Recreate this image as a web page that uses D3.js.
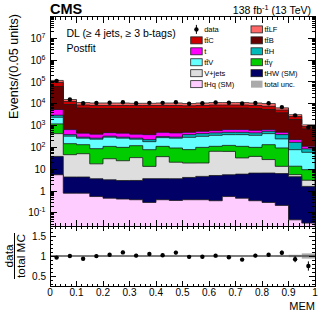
<!DOCTYPE html>
<html><head><meta charset="utf-8">
<script src="https://cdn.jsdelivr.net/npm/d3@7"></script>
<style>
body{margin:0;background:#fff}
svg{display:block}
text{font-family:"Liberation Sans",Arial,Helvetica,sans-serif;fill:#000}
</style>
</head><body>
<svg id="c" width="332" height="325"></svg>
<script>
// ---------------- data ----------------
const binLow = [0.00,0.05,0.10,0.15,0.20,0.25,0.30,0.35,0.40,0.45,0.50,0.55,0.60,0.65,0.70,0.75,0.80,0.85,0.90,0.95];
const binWidth = 0.05;

const tHq     = [5.6,0.8,0.8,0.56,0.47,0.43,0.40,0.30,0.40,0.37,0.40,0.40,0.36,0.56,0.47,0.36,0.30,0.22,0.048,0.034];
const tHW     = [33,3.6,3.6,3.1,2.8,2.6,2.65,3.4,3.3,3.3,3.8,4.3,4.8,5.0,5.5,6.3,6.4,6.1,4.5,1.6];
const Vjets   = [390,42,47,14,27,21.5,31,9.8,34,17.3,15,14.6,61,60,27,32,21,7.2,1.1,1.5];
const ttgamma = [770,102,82,70,81,76,86,65,74,73,60,81,46,58,79,62,106,81,8.1,6.4];
const ttV     = [1210,180,132,151,184,165,119,105,169,172,211,222,246,261,273,258,295,151,65,50];
const ttH     = [570,56,30,27,33,30,27,43,31,30,95,106,104,107,107,104,119,140,92,26];
const tSingle = [2470,270,156,140,147,156,140,158,180,166,107,119,127,163,163,146,108,107,56,27];
const ttB     = [56650,8585,5930,5645,5575,5600,5645,5665,5560,5590,5560,5500,5790,5725,5725,5440,4790,3345,1660,593];
const ttC     = [32700,3450,2390,2260,2260,2260,2260,2260,2260,2260,2000,2260,2390,2390,2390,2260,2195,1323,706,194];
const ttLF    = [22400,2990,2630,2510,2510,2510,2180,2180,2510,2510,2210,2510,2630,2630,2630,2510,2620,1350,612,213];

const data    = [112500,15700,10600,10800,11150,11800,10600,11000,11040,11740,10050,10600,11500,11060,10370,10930,10570,7030,2950,834];
const dataErr = [1500,560,460,465,470,485,460,470,470,485,450,460,480,470,455,470,460,375,243,129];
const uncRel  = [0.012,0.012,0.012,0.012,0.012,0.012,0.012,0.012,0.012,0.012,0.012,0.012,0.012,0.012,0.012,0.012,0.012,0.015,0.03,0.065];

const yTickLabels = [["10","-1"],["1",""],["10",""],["10","2"],["10","3"],["10","4"],["10","5"],["10","6"],["10","7"]];
const yTickValues = [0.1,1,10,100,1e3,1e4,1e5,1e6,1e7];
const xTickValues = [0,0.1,0.2,0.3,0.4,0.5,0.6,0.7,0.8,0.9,1];
const xTickLabels = ["0","0.1","0.2","0.3","0.4","0.5","0.6","0.7","0.8","0.9","1"];
const rTickValues = [0.5,1,1.5];
const rTickLabels = ["0.5","1","1.5"];

// stack order (bottom -> top), colours, legend
const keys   = ["tHq","tHW","Vjets","ttgamma","ttV","ttH","t","ttB","ttC","ttLF"];
const colors = {ttLF:"#ff6666",ttC:"#cc0000",ttB:"#660000",t:"#ff00ff",ttH:"#00baba",ttV:"#66ffff",ttgamma:"#00cc00",Vjets:"#dedede",tHW:"#000066",tHq:"#ffccff",unc:"#aaaaaa"};
const legendItems = [
  ["data","data"],["ttLF","tt\u0304LF"],
  ["ttC","tt\u0304C"],["ttB","tt\u0304B"],
  ["t","t"],["ttH","tt\u0304H"],
  ["ttV","tt\u0304V"],["ttgamma","tt\u0304\u03b3"],
  ["Vjets","V+jets"],["tHW","tHW (SM)"],
  ["tHq","tHq (SM)"],["unc","total unc."]
];

// ---------------- layout ----------------
const FONT = '"Liberation Sans",Arial,Helvetica,sans-serif';
const L = 50, R = 315, T = 16.5, MB = 226, RT = 226, RB = 286;
const svg = d3.select("#c");
const x = d3.scaleLinear().domain([0,1]).range([L,R]);
const yMin = 0.025, yMax = 1e8;
const y = d3.scaleLog().domain([yMin,yMax]).range([MB,T]);
const yr = d3.scaleLinear().domain([0.25,1.75]).range([RB,RT]);

const series = {tHq,tHW,Vjets,ttgamma,ttV,ttH,t:tSingle,ttB,ttC,ttLF};
const rows = binLow.map((lo,i)=>{const r={lo}; keys.forEach(k=>r[k]=series[k][i]); return r;});
const stacked = d3.stack().keys(keys)(rows);
const total = rows.map((r,i)=>stacked[stacked.length-1][i][1]);

svg.append("clipPath").attr("id","cm").append("rect").attr("x",L).attr("y",T).attr("width",R-L).attr("height",MB-T);
svg.append("clipPath").attr("id","cr").append("rect").attr("x",L).attr("y",RT).attr("width",R-L).attr("height",RB-RT);

const gMain = svg.append("g").attr("clip-path","url(#cm)");
function stepPts(vals){
  const p=[{x:0,v:yMin}];
  vals.forEach((v,i)=>p.push({x:binLow[i],v:Math.max(v,yMin)}));
  p.push({x:binLow[binLow.length-1]+binWidth,v:Math.max(vals[vals.length-1],yMin)});
  p.push({x:binLow[binLow.length-1]+binWidth,v:yMin});
  return p;
}
const area = d3.area().x(d=>x(d.x)).y0(y(yMin)).y1(d=>y(d.v)).curve(d3.curveStepAfter);
const line = d3.line().x(d=>x(d.x)).y(d=>y(d.v)).curve(d3.curveStepAfter);
// draw from top layer down, each filled to the bottom (THStack style)
for (let li=stacked.length-1; li>=0; li--){
  const layer = stacked[li];
  const vals = layer.map(d=>d[1]);
  const pts = stepPts(vals);
  gMain.append("path").attr("d",area(pts)).attr("fill",colors[layer.key]);
  gMain.append("path").attr("d",line(pts)).attr("fill","none").attr("stroke","#1a1a1a").attr("stroke-width",0.8);
}
// total uncertainty band
gMain.selectAll("rect.unc").data(binLow).join("rect").attr("class","unc")
  .attr("x",d=>x(d)).attr("width",(d)=>x(d+binWidth)-x(d))
  .attr("y",(d,i)=>y(total[i]*(1+uncRel[i]))).attr("height",(d,i)=>y(total[i]*(1-uncRel[i]))-y(total[i]*(1+uncRel[i])))
  .attr("fill",colors.unc).attr("opacity",0.7);
// data points
binLow.forEach((lo,i)=>{
  const cx = x(lo+binWidth/2);
  gMain.append("line").attr("x1",cx).attr("x2",cx).attr("y1",y(data[i]-dataErr[i])).attr("y2",y(data[i]+dataErr[i])).attr("stroke","#000").attr("stroke-width",1);
  gMain.append("circle").attr("cx",cx).attr("cy",y(data[i])).attr("r",2.2).attr("fill","#000");
});

// ratio panel
const gR = svg.append("g").attr("clip-path","url(#cr)");
binLow.forEach((lo,i)=>{
  gR.append("rect").attr("x",x(lo)).attr("width",x(lo+binWidth)-x(lo))
    .attr("y",yr(1+uncRel[i])).attr("height",yr(1-uncRel[i])-yr(1+uncRel[i])).attr("fill",colors.unc);
});
gR.append("line").attr("x1",L).attr("x2",R).attr("y1",yr(1)).attr("y2",yr(1)).attr("stroke","#222").attr("stroke-width",1);
binLow.forEach((lo,i)=>{
  const cx = x(lo+binWidth/2), r = data[i]/total[i], e = dataErr[i]/total[i];
  gR.append("line").attr("x1",cx).attr("x2",cx).attr("y1",yr(r-e)).attr("y2",yr(r+e)).attr("stroke","#000").attr("stroke-width",1);
  gR.append("circle").attr("cx",cx).attr("cy",yr(r)).attr("r",2.2).attr("fill","#000");
});

// ---------------- axes / ticks ----------------
const gAx = svg.append("g").attr("stroke","#000").attr("stroke-width",1).attr("shape-rendering","crispEdges");
function tick(x1,y1,x2,y2){ gAx.append("line").attr("x1",x1).attr("y1",y1).attr("x2",x2).attr("y2",y2); }
// frames
gAx.append("rect").attr("x",L).attr("y",T).attr("width",R-L).attr("height",MB-T).attr("fill","none");
gAx.append("rect").attr("x",L).attr("y",RT).attr("width",R-L).attr("height",RB-RT).attr("fill","none");
// x ticks (both panels)
const xMinor = d3.range(0,51).map(i=>i/50);
xMinor.forEach(v=>{
  const major = Math.abs(v*10-Math.round(v*10))<1e-6;
  const lm = major?6:3, lr = major?5:2.5;
  const px = x(v);
  tick(px,MB,px,MB-lm); tick(px,T,px,T+lm);
  tick(px,RB,px,RB-lr); tick(px,RT,px,RT+lr);
});
// log y ticks main
for (let e=-2; e<=7; e++){
  for (let m=1; m<=9; m++){
    const v = m*Math.pow(10,e);
    if (v<yMin || v>yMax) continue;
    const len = m===1?7:3.5;
    const py = y(v);
    tick(L,py,L+len,py); tick(R,py,R-len,py);
  }
}
// ratio y ticks
d3.range(3,18).map(i=>i/10).forEach(v=>{
  const major = Math.abs(v*2-Math.round(v*2))<1e-6;
  const len = major?6:3;
  const py = yr(v);
  tick(L,py,L+len,py); tick(R,py,R-len,py);
});

// ---------------- labels ----------------
const gT = svg.append("g").attr("font-family",FONT);
yTickValues.forEach((v,i)=>{
  const t = gT.append("text").attr("x",45.5).attr("y",y(v)).attr("dy","0.36em").attr("text-anchor","end").attr("font-size",10);
  t.append("tspan").text(yTickLabels[i][0]);
  if (yTickLabels[i][1]) t.append("tspan").attr("dy",-4.2).attr("font-size",7).text(yTickLabels[i][1]);
});
rTickValues.forEach((v,i)=>{
  gT.append("text").attr("x",46).attr("y",yr(v)).attr("dy","0.36em").attr("text-anchor","end").attr("font-size",10).text(rTickLabels[i]);
});
xTickValues.forEach((v,i)=>{
  gT.append("text").attr("x",x(v)).attr("y",295.5).attr("text-anchor","middle").attr("font-size",10).text(xTickLabels[i]);
});
gT.append("text").attr("x",315).attr("y",309.5).attr("text-anchor","end").attr("font-size",11).text("MEM");
gT.append("text").attr("transform","translate(17.5,14) rotate(-90)").attr("text-anchor","end").attr("font-size",12.6).text("Events/(0.05 units)");
// ratio title as fraction
gT.append("text").attr("transform","translate(12.8,256) rotate(-90)").attr("text-anchor","middle").attr("font-size",11.8).text("data");
gT.append("text").attr("transform","translate(25,256) rotate(-90)").attr("text-anchor","middle").attr("font-size",11.8).text("total MC");
svg.append("line").attr("x1",14.5).attr("x2",14.5).attr("y1",233).attr("y2",279).attr("stroke","#000").attr("stroke-width",1);

// header
gT.append("text").attr("x",50).attr("y",14).attr("font-size",14.5).attr("font-weight","bold").text("CMS");
const lum = gT.append("text").attr("x",311).attr("y",14).attr("text-anchor","end").attr("font-size",10.5);
lum.append("tspan").text("138 fb");
lum.append("tspan").attr("dy",-4.2).attr("font-size",7.4).text("-1");
lum.append("tspan").attr("dy",4.2).text(" (13 TeV)");
gT.append("text").attr("x",66.5).attr("y",37.3).attr("font-size",10.5).text("DL (\u2265 4 jets, \u2265 3 b-tags)");
gT.append("text").attr("x",66.5).attr("y",51.7).attr("font-size",10.5).text("Postfit");

// legend
const colX = [190.7, 251], rowY0 = 29.4, rowDy = 10.95;
legendItems.forEach((it,i)=>{
  const c = i%2, r = Math.floor(i/2);
  const bx = colX[c], cy = rowY0 + r*rowDy;
  if (it[0]==="data"){
    svg.append("line").attr("x1",bx+5.7).attr("x2",bx+5.7).attr("y1",cy-4.5).attr("y2",cy+4.5).attr("stroke","#000");
    svg.append("circle").attr("cx",bx+5.7).attr("cy",cy).attr("r",2.2).attr("fill","#000");
  } else {
    svg.append("rect").attr("x",bx).attr("y",cy-3.5).attr("width",11.5).attr("height",7)
      .attr("fill",colors[it[0]]).attr("stroke",it[0]==="unc"?"none":"#222").attr("stroke-width",0.8);
  }
  gT.append("text").attr("x",bx+13.5).attr("y",cy).attr("dy","0.36em").attr("font-size",7.5).text(it[1]);
});
</script>
</body></html>
